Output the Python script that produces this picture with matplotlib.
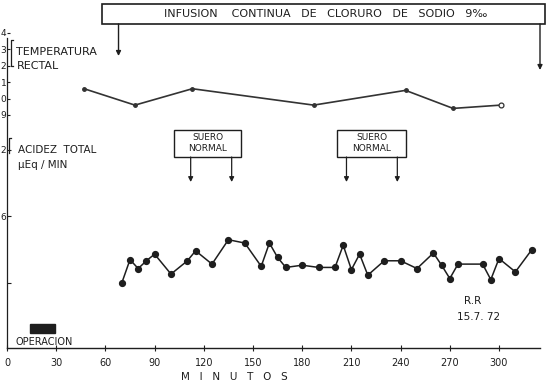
import matplotlib
matplotlib.use('Agg')
import matplotlib.pyplot as plt
from matplotlib.patches import Rectangle
from matplotlib.lines import Line2D

W, H = 551, 382

# temperatura rectal
temp_min = [47, 78, 113, 187, 243, 272, 301]
temp_val = [37.06, 36.96, 37.06, 36.96, 37.05, 36.94, 36.96]
temp_ticks = [37.4, 37.3, 37.2, 37.1, 37.0, 36.9]
# only the last digit survives at the left edge of the scan
temp_labels = ['4', '3', '2', '1', '0', '9']

# acidez total (uEq/min)
acid_min = [70, 75, 80, 85, 90, 100, 110, 115, 125, 135, 145, 155, 160, 165,
            170, 180, 190, 200, 205, 210, 215, 220, 230, 240, 250, 260, 265,
            270, 275, 290, 295, 300, 310, 320]
acid_val = [0.00, 0.21, 0.13, 0.20, 0.26, 0.08, 0.20, 0.29, 0.17, 0.39, 0.36,
            0.15, 0.36, 0.23, 0.14, 0.16, 0.14, 0.14, 0.34, 0.12, 0.26, 0.07,
            0.20, 0.20, 0.13, 0.27, 0.16, 0.04, 0.17, 0.17, 0.03, 0.22, 0.10,
            0.30]
acid_ticks = [1.2, 0.6, 0.0]
acid_labels = ['2', '6', '']

x_ticks = [0, 30, 60, 90, 120, 150, 180, 210, 240, 270, 300]
infusion_min = [68, 325]
suero_min = [[112, 137], [207, 238]]

ink = '#1e1e1e'


def fx(px):
    return px / W


def fy(py):
    return 1 - py / H


def ay(py):
    # pixel row -> axes fraction of the main axes
    return (fy(py) - fy(348)) / (fy(0) - fy(348))


fig = plt.figure(figsize=(W / 100, H / 100), dpi=100)
ax = fig.add_axes([fx(7), fy(348), fx(540) - fx(7), fy(0) - fy(348)])
ax.set_xlim(0, 325)
ax.set_ylim(-0.587, 2.553)
for s in ['top', 'right']:
    ax.spines[s].set_visible(False)
ax.spines['left'].set_bounds(-0.587, 2.21)
ax.spines['left'].set_color(ink)
ax.spines['bottom'].set_color(ink)
ax.spines['left'].set_linewidth(0.9)
ax.spines['bottom'].set_linewidth(1.0)

ax.set_xticks(x_ticks)
ax.set_xticklabels([str(t) for t in x_ticks])
ax.tick_params(axis='x', direction='inout', length=4, width=0.8, pad=5,
               labelsize=7, colors=ink)
ax.set_yticks(acid_ticks)
ax.set_yticklabels(acid_labels)
ax.tick_params(axis='y', direction='in', length=3, width=0.8, pad=0.5,
               labelsize=6.5, colors=ink)

ax.plot(acid_min, acid_val, color=ink, lw=1.1, marker='o', ms=4.2,
        mfc=ink, mec=ink, clip_on=False)

# temperatura en un eje propio
axt = ax.twinx()
axt.set_ylim(35.479, 37.601)
for s in axt.spines.values():
    s.set_visible(False)
axt.yaxis.tick_left()
axt.set_yticks(temp_ticks)
axt.set_yticklabels(temp_labels)
axt.tick_params(axis='y', direction='in', length=2.5, width=0.8, pad=0.5,
                labelsize=6.5, colors=ink)
axt.plot(temp_min, temp_val, color='#333333', lw=1.2, marker='o', ms=2.5,
         mfc='#333333', clip_on=False)
axt.plot(temp_min[-1:], temp_val[-1:], ls='none', marker='o', ms=3.5,
         mfc='white', mec='#333333', mew=0.9)

# caja de infusion
fig.add_artist(Rectangle((fx(102), fy(24)), fx(545) - fx(102), fy(4) - fy(24),
                         transform=fig.transFigure, fill=False, ec=ink, lw=1.2))
fig.text(fx(326), fy(14), 'INFUSION    CONTINUA   DE   CLORURO   DE   SODIO   9‰',
         ha='center', va='center', fontsize=8, color=ink)
trans = ax.get_xaxis_transform()
for m, end in zip(infusion_min, [56, 70]):
    ax.annotate('', xy=(m, ay(end)), xytext=(m, ay(24)),
                xycoords=trans, textcoords=trans, annotation_clip=False,
                arrowprops=dict(arrowstyle='-|>', color=ink, lw=1.0,
                                mutation_scale=7, shrinkA=0, shrinkB=0))

# suero normal
for pair, (bx0, bx1) in zip(suero_min, [(174, 241), (337, 406)]):
    fig.add_artist(Rectangle((fx(bx0), fy(157)), fx(bx1) - fx(bx0), fy(130) - fy(157),
                             transform=fig.transFigure, fill=False, ec=ink, lw=1.0))
    cx = (bx0 + bx1) / 2
    fig.text(fx(cx), fy(137), 'SUERO', ha='center', va='center', fontsize=6.5, color=ink)
    fig.text(fx(cx), fy(149), 'NORMAL', ha='center', va='center', fontsize=6.5, color=ink)
    for m in pair:
        ax.annotate('', xy=(m, ay(182)), xytext=(m, ay(157)),
                    xycoords=trans, textcoords=trans, annotation_clip=False,
                    arrowprops=dict(arrowstyle='-|>', color=ink, lw=0.9,
                                    mutation_scale=7, shrinkA=0, shrinkB=0))

# rotulos
fig.text(fx(16), fy(52), 'TEMPERATURA', ha='left', va='center', fontsize=8, color=ink)
fig.text(fx(17), fy(66), 'RECTAL', ha='left', va='center', fontsize=8, color=ink)
fig.text(fx(18), fy(150), 'ACIDEZ  TOTAL', ha='left', va='center', fontsize=7.5, color=ink)
fig.text(fx(18), fy(165), 'μEq / MIN', ha='left', va='center', fontsize=7.5, color=ink)
for xs, ys in [([13, 11, 11, 13], [40, 40, 66, 66]), ([11, 9, 9], [138, 138, 153])]:
    fig.add_artist(Line2D([fx(v) for v in xs], [fy(v) for v in ys],
                          transform=fig.transFigure, color=ink, lw=0.9))

fig.add_artist(Rectangle((fx(30), fy(333)), fx(55) - fx(30), fy(324) - fy(333),
                         transform=fig.transFigure, color=ink))
fig.text(fx(15), fy(342), 'OPERACION', ha='left', va='center', fontsize=7, color=ink)
fig.text(fx(473), fy(301), 'R.R', ha='center', va='center', fontsize=7.5, color=ink)
fig.text(fx(479), fy(317), '15.7. 72', ha='center', va='center', fontsize=7.5, color=ink)
fig.text(fx(234), fy(377), 'M   I   N   U   T   O   S', ha='center', va='center',
         fontsize=7.5, color=ink)

fig.savefig('out.png', dpi=100)
